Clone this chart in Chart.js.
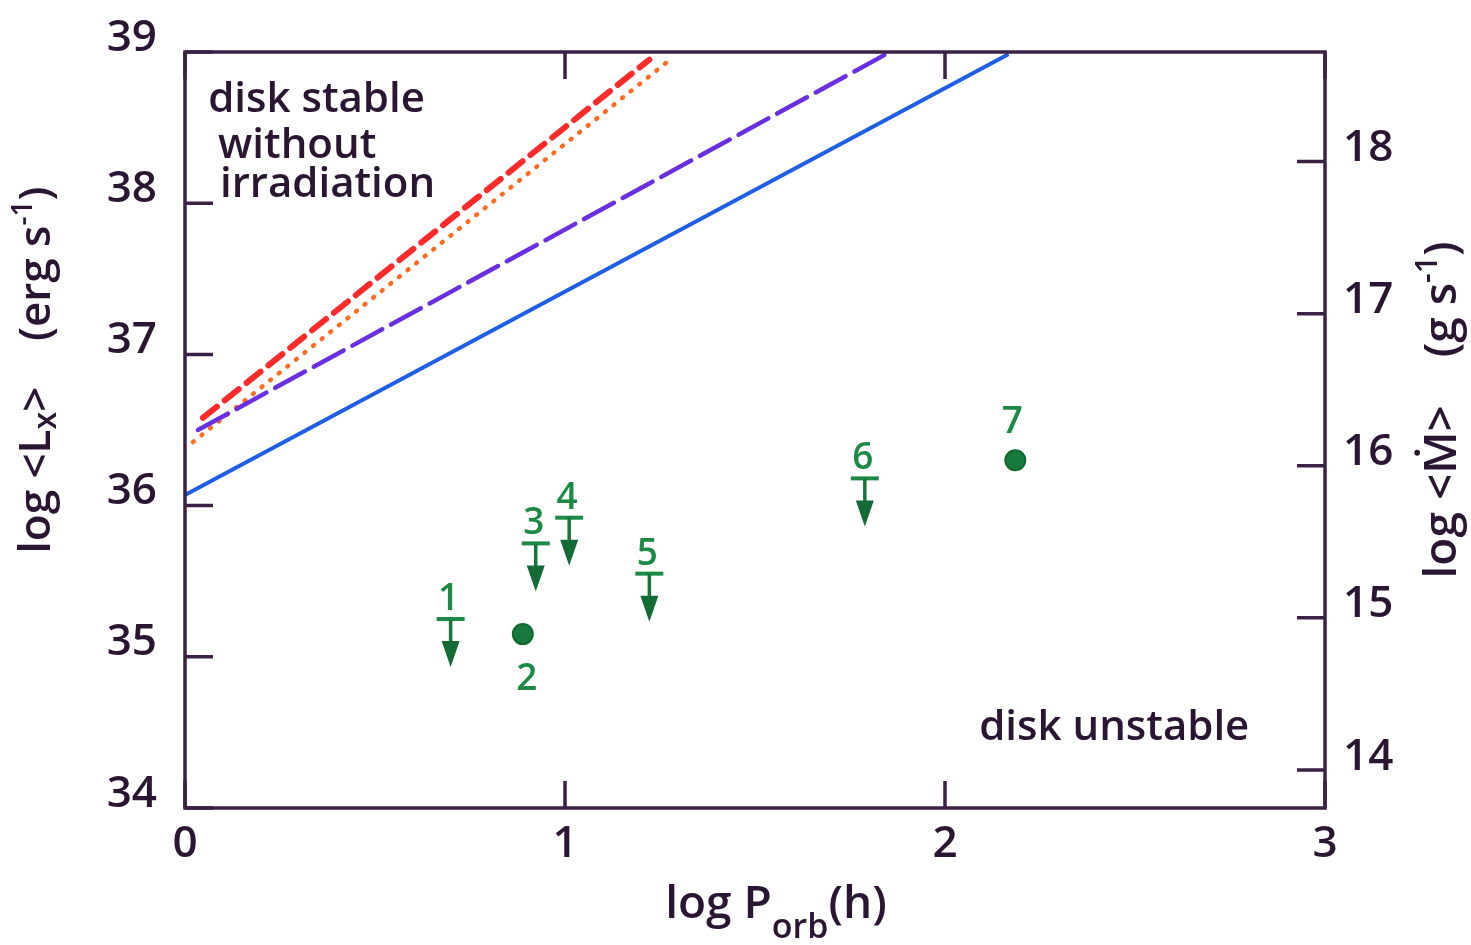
<!DOCTYPE html>
<html>
<head>
<meta charset="utf-8">
<script src="https://cdn.jsdelivr.net/npm/chart.js@4.4.1/dist/chart.umd.min.js"></script>
<style>
  html, body { margin: 0; padding: 0; background: #fff; }
</style>
</head>
<body>
<canvas id="diskChart" width="1471" height="945"></canvas>
<script>
// tick values
const xTicks = [0, 1, 2, 3];
const lxTicks = [34, 35, 36, 37, 38, 39];
const mdotTicks = [14, 15, 16, 17, 18];

// stability limits (log P, log Lx)
const blueX = [0, 2.163],     blueY = [36.07, 38.98];
const purpleX = [0.034, 1.855], purpleY = [36.50, 39.0];
const redX = [0.047, 1.222],  redY = [36.58, 38.95];
const orangeX = [0.021, 1.272], orangeY = [36.42, 38.94];

// sources: upper limits and detections
const limitIds = ['1', '3', '4', '5', '6'];
const limitX = [0.699, 0.923, 1.011, 1.222, 1.789];
const limitY = [35.25, 35.75, 35.92, 35.55, 36.18];
const detIds = ['2', '7'];
const detX = [0.889, 2.185];
const detY = [35.15, 36.30];

const INK = '#2a1632';
const AXIS = '#3a2145';
const GREEN = '#1c8a45';
const FONT = '"Open Sans", "DejaVu Sans", sans-serif';
const W = '600 ';

function pts(xs, ys) {
	return xs.map(function (x, i) { return { x: x, y: ys[i] }; });
}

function lineSet(label, xs, ys, color, width, dash) {
	return {
		label: label,
		data: pts(xs, ys),
		showLine: true,
		borderColor: color,
		borderWidth: width,
		borderDash: dash,
		borderCapStyle: 'round',
		pointRadius: 0,
		fill: false
	};
}

// draw text made of pieces (subscripts / superscripts)
function richText(ctx, parts, x, y, rot) {
	ctx.save();
	ctx.translate(x, y);
	ctx.rotate(rot);
	let total = 0;
	parts.forEach(function (p) {
		ctx.font = W + p.size + 'px ' + FONT;
		total += ctx.measureText(p.t).width;
	});
	let cx = -total / 2;
	ctx.textBaseline = 'alphabetic';
	ctx.textAlign = 'left';
	parts.forEach(function (p) {
		ctx.font = W + p.size + 'px ' + FONT;
		ctx.fillText(p.t, cx, p.dy || 0);
		cx += ctx.measureText(p.t).width;
	});
	ctx.restore();
}

const decorPlugin = {
	id: 'decor',
	afterDatasetsDraw: function (chart) {
		const ctx = chart.ctx;
		const a = chart.chartArea;
		const sx = chart.scales.x, sy = chart.scales.y, sy2 = chart.scales.y2;

		// frame
		ctx.save();
		ctx.strokeStyle = AXIS;
		ctx.lineWidth = 3.5;
		ctx.strokeRect(a.left, a.top, a.right - a.left, a.bottom - a.top);

		// inward ticks
		ctx.lineWidth = 3.5;
		ctx.beginPath();
		xTicks.forEach(function (v) {
			const px = sx.getPixelForValue(v);
			ctx.moveTo(px, a.bottom); ctx.lineTo(px, a.bottom - 27);
			ctx.moveTo(px, a.top); ctx.lineTo(px, a.top + 27);
		});
		lxTicks.forEach(function (v) {
			const py = sy.getPixelForValue(v);
			ctx.moveTo(a.left, py); ctx.lineTo(a.left + 28, py);
		});
		mdotTicks.forEach(function (v) {
			const py = sy2.getPixelForValue(v);
			ctx.moveTo(a.right, py); ctx.lineTo(a.right - 28, py);
		});
		ctx.stroke();

		// arrows under the upper limits
		ctx.strokeStyle = '#16773a';
		ctx.fillStyle = '#146b35';
		ctx.lineWidth = 3.5;
		limitX.forEach(function (v, i) {
			const px = sx.getPixelForValue(v);
			const py = sy.getPixelForValue(limitY[i]);
			ctx.beginPath();
			ctx.moveTo(px, py);
			ctx.lineTo(px, py + 30);
			ctx.stroke();
			ctx.beginPath();
			ctx.moveTo(px - 9, py + 22);
			ctx.lineTo(px + 9, py + 22);
			ctx.lineTo(px, py + 48);
			ctx.closePath();
			ctx.fill();
		});

		// source numbers
		ctx.fillStyle = GREEN;
		ctx.font = W + '37px ' + FONT;
		ctx.textAlign = 'center';
		ctx.textBaseline = 'alphabetic';
		limitIds.forEach(function (t, i) {
			const px = sx.getPixelForValue(limitX[i]);
			const py = sy.getPixelForValue(limitY[i]);
			ctx.fillText(t, px - 2, py - 9);
		});
		detIds.forEach(function (t, i) {
			const px = sx.getPixelForValue(detX[i]);
			const py = sy.getPixelForValue(detY[i]);
			if (t === '2') ctx.fillText(t, px + 4, py + 56);
			else ctx.fillText(t, px - 3, py - 27);
		});

		// region labels
		ctx.fillStyle = INK;
		ctx.font = W + '42px ' + FONT;
		ctx.textAlign = 'left';
		ctx.fillText('disk stable', sx.getPixelForValue(0.061), sy.getPixelForValue(38.60));
		ctx.fillText('without', sx.getPixelForValue(0.087), sy.getPixelForValue(38.30));
		ctx.fillText('irradiation', sx.getPixelForValue(0.092), sy.getPixelForValue(38.04));
		ctx.fillText('disk unstable', sx.getPixelForValue(2.09), sy.getPixelForValue(34.45));

		// axis titles
		richText(ctx, [
			{ t: 'log <L', size: 44 },
			{ t: 'x', size: 32, dy: 6 },
			{ t: '>    (erg s', size: 44 },
			{ t: '-1', size: 28, dy: -18 },
			{ t: ')', size: 44 }
		], 50, 370, -Math.PI / 2);
		richText(ctx, [
			{ t: 'log <Ṁ>    (g s', size: 46 },
			{ t: '-1', size: 30, dy: -19 },
			{ t: ')', size: 46 }
		], 1456, 410, -Math.PI / 2);
		richText(ctx, [
			{ t: 'log P', size: 46 },
			{ t: 'orb', size: 34, dy: 20 },
			{ t: '(h)', size: 46 }
		], 776, 918, 0);
		ctx.restore();
	}
};

const tickFont = { family: FONT, size: 44, weight: '600', lineHeight: 1 };

const config = {
	type: 'scatter',
	data: {
		datasets: [
			lineSet('blue', blueX, blueY, '#1f5fe6', 4, []),
			lineSet('purple', purpleX, purpleY, '#6a2fe0', 4.5, [34, 10]),
			lineSet('red', redX, redY, '#ff2b2b', 6, [18, 10]),
			lineSet('orange', orangeX, orangeY, '#ff6a1f', 4.5, [1, 10]),
			{
				label: 'upper limits',
				data: pts(limitX, limitY),
				pointStyle: 'line',
				pointRadius: 14,
				borderColor: GREEN,
				borderWidth: 4
			},
			{
				label: 'detections',
				data: pts(detX, detY),
				pointStyle: 'circle',
				pointRadius: 10,
				backgroundColor: '#177a3c',
				borderColor: '#0f6a30',
				borderWidth: 2
			}
		]
	},
	plugins: [decorPlugin],
	options: {
		responsive: false,
		animation: false,
		events: [],
		devicePixelRatio: 1,
		layout: { padding: { top: 52, left: 0, right: 0, bottom: 0 } },
		plugins: {
			legend: { display: false },
			tooltip: { enabled: false }
		},
		scales: {
			x: {
				type: 'linear',
				min: 0, max: 3,
				grid: { display: false, drawTicks: false },
				border: { display: false },
				afterBuildTicks: function (s) { s.ticks = xTicks.map(function (v) { return { value: v }; }); },
				afterFit: function (s) { s.height = 137; },
				ticks: { font: tickFont, color: INK, padding: 14, autoSkip: false, maxRotation: 0 }
			},
			y: {
				type: 'linear',
				position: 'left',
				min: 34, max: 39,
				grid: { display: false, drawTicks: false },
				border: { display: false },
				afterBuildTicks: function (s) { s.ticks = lxTicks.map(function (v) { return { value: v }; }); },
				afterFit: function (s) { s.width = 185; },
				ticks: { font: tickFont, color: INK, padding: 28, labelOffset: -14, autoSkip: false }
			},
			y2: {
				type: 'linear',
				position: 'right',
				min: 13.75, max: 18.72,
				grid: { display: false, drawTicks: false },
				border: { display: false },
				afterBuildTicks: function (s) { s.ticks = mdotTicks.map(function (v) { return { value: v }; }); },
				afterFit: function (s) { s.width = 146; },
				ticks: { font: tickFont, color: INK, padding: 18, labelOffset: -13, autoSkip: false }
			}
		}
	}
};

const diskChart = new Chart(document.getElementById('diskChart').getContext('2d'), config);
</script>
</body>
</html>
